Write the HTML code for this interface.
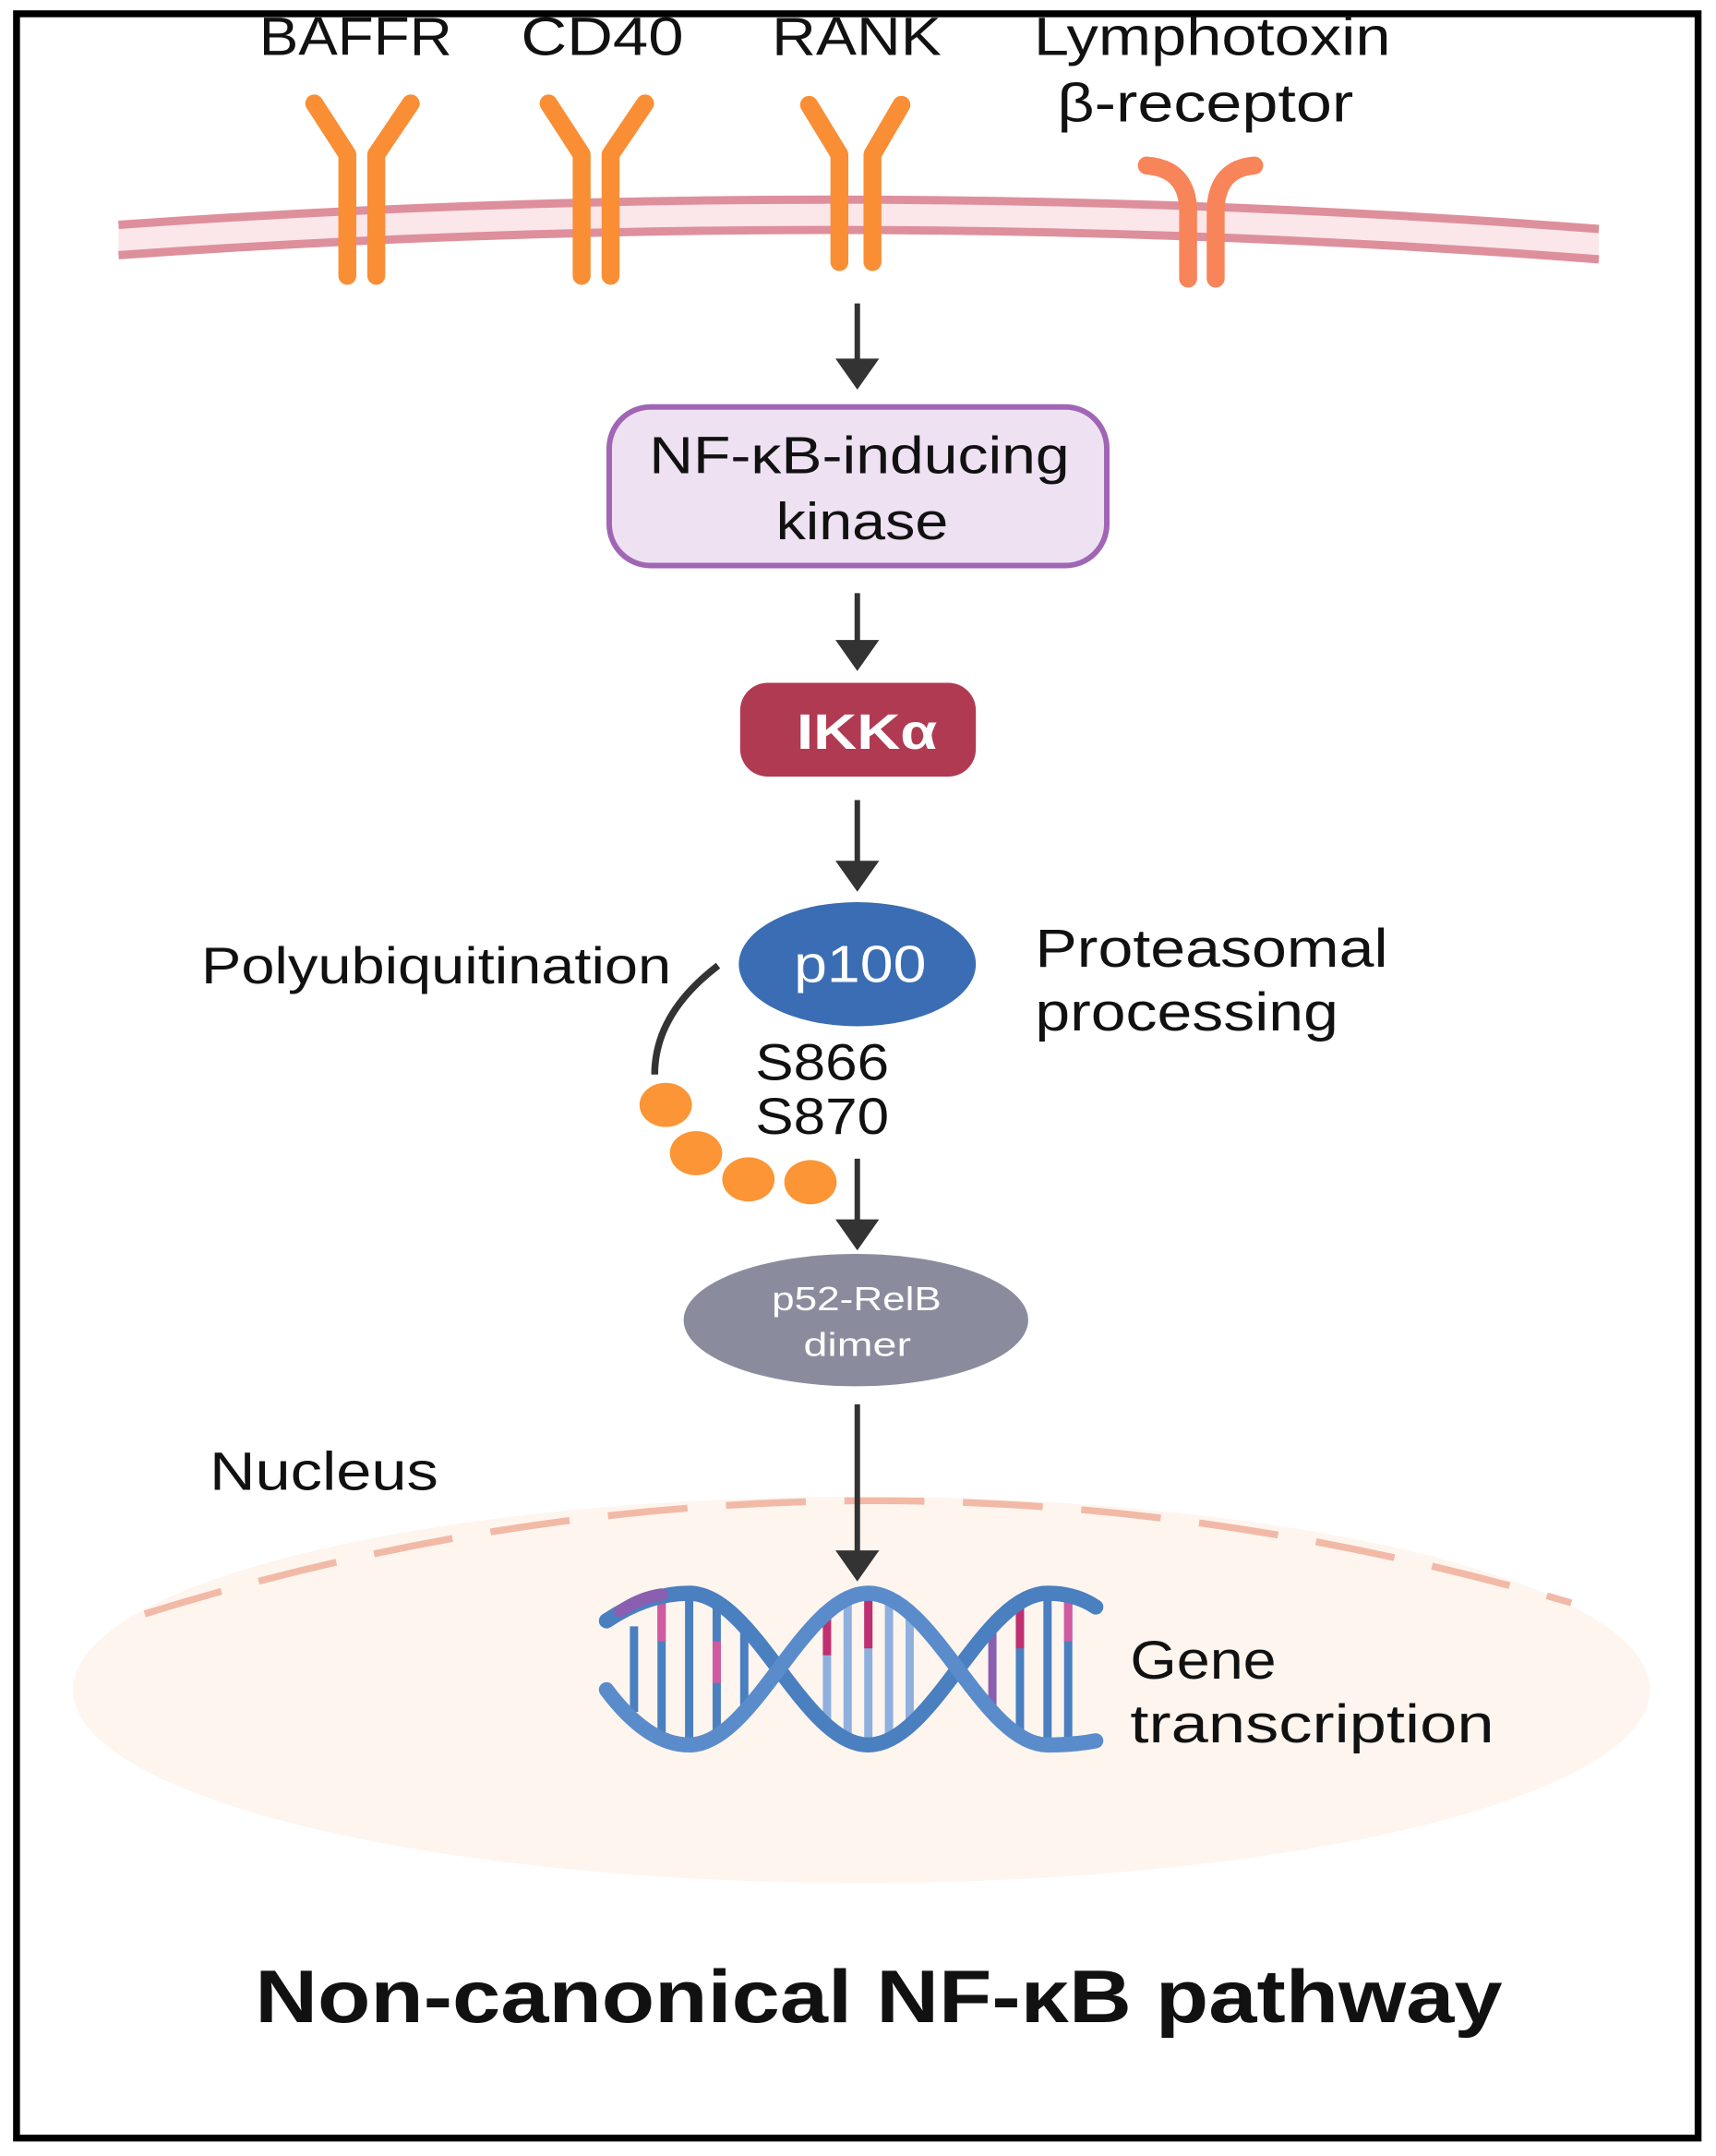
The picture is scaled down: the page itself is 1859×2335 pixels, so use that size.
<!DOCTYPE html>
<html><head><meta charset="utf-8"><style>
html,body{margin:0;padding:0;background:#fff;}
svg{display:block;}
text{font-family:"Liberation Sans","DejaVu Sans",sans-serif;}
</style></head><body>
<svg width="1859" height="2335" viewBox="0 0 1245 1563" preserveAspectRatio="none" xmlns="http://www.w3.org/2000/svg">
<rect x="12" y="10" width="1220" height="1540" fill="#fff" stroke="#000" stroke-width="5"/>
<!-- nucleus -->
<ellipse cx="625" cy="1225" rx="572" ry="140" fill="#fdf5ee"/>
<path d="M105,1170 Q620,1010 1140,1162" fill="none" stroke="#f2b9a7" stroke-width="5" stroke-dasharray="58,28"/>
<!-- labels top -->
<g font-size="39" fill="#111" lengthAdjust="spacingAndGlyphs">
<text x="188" y="40" textLength="140" lengthAdjust="spacingAndGlyphs">BAFFR</text>
<text x="378" y="40" textLength="118" lengthAdjust="spacingAndGlyphs">CD40</text>
<text x="560" y="40" textLength="123" lengthAdjust="spacingAndGlyphs">RANK</text>
<text x="750" y="40" textLength="259" lengthAdjust="spacingAndGlyphs">Lymphotoxin</text>
<text x="767" y="88" textLength="215" lengthAdjust="spacingAndGlyphs">β-receptor</text>
</g>
<!-- membrane -->
<path d="M86,163 Q622,125 1160,166 L1160,188 Q622,147 86,185 Z" fill="#fbe6ea"/>
<path d="M86,163 Q622,125 1160,166" fill="none" stroke="#de8f9c" stroke-width="6"/>
<path d="M86,185 Q622,147 1160,188" fill="none" stroke="#de8f9c" stroke-width="6"/>
<!-- receptors -->
<g fill="none" stroke="#f98e35" stroke-width="13" stroke-linecap="round" stroke-linejoin="round">
<path d="M228,75 L252,112 L252,200"/><path d="M298,75 L273,112 L273,200"/>
<path d="M398,75 L422,112 L422,200"/><path d="M468,75 L443,112 L443,200"/>
<path d="M587,76 L609,112 L609,190"/><path d="M654,76 L633,112 L633,190"/>
</g>
<g fill="none" stroke="#f8845a" stroke-width="13" stroke-linecap="round" stroke-linejoin="round">
<path d="M832,120 Q860,122 862,150 L862,202"/><path d="M910,120 Q884,122 882,150 L882,202"/>
</g>
<!-- arrows -->
<g stroke="#333" stroke-width="4" fill="#333">
<line x1="622" y1="220" x2="622" y2="268"/><path d="M610,262 L634,262 L622,279 Z"/>
<line x1="622" y1="430" x2="622" y2="472"/><path d="M610,466 L634,466 L622,483 Z"/>
<line x1="622" y1="580" x2="622" y2="632"/><path d="M610,626 L634,626 L622,643 Z"/>
<line x1="622" y1="840" x2="622" y2="892"/><path d="M610,886 L634,886 L622,903 Z"/>
<line x1="622" y1="1018" x2="622" y2="1132"/><path d="M610,1126 L634,1126 L622,1143 Z"/>
</g>
<!-- NIK -->
<rect x="442" y="295" width="361" height="115" rx="30" fill="#eee1f2" stroke="#a066b5" stroke-width="4"/>
<text x="471" y="343" font-size="38" textLength="305" lengthAdjust="spacingAndGlyphs" fill="#111">NF-κB-inducing</text>
<text x="563" y="391" font-size="38" textLength="125" lengthAdjust="spacingAndGlyphs" fill="#111">kinase</text>
<!-- IKK -->
<rect x="537" y="495" width="171" height="68" rx="20" fill="#b03a52"/>
<text x="578" y="543" font-size="36" font-weight="bold" textLength="102" lengthAdjust="spacingAndGlyphs" fill="#fff">IKKα</text>
<!-- p100 -->
<ellipse cx="622" cy="699" rx="86" ry="45" fill="#3a6db3"/>
<text x="576" y="712" font-size="38" textLength="96" lengthAdjust="spacingAndGlyphs" fill="#fff">p100</text>
<text x="146" y="713" font-size="37" textLength="341" lengthAdjust="spacingAndGlyphs" fill="#111">Polyubiquitination</text>
<path d="M521,700 Q475,735 475,779" fill="none" stroke="#333" stroke-width="5"/>
<g fill="#fb9535">
<ellipse cx="483" cy="801" rx="19" ry="16"/>
<ellipse cx="505" cy="836" rx="19" ry="16"/>
<ellipse cx="543" cy="855" rx="19" ry="16"/>
<ellipse cx="588" cy="857" rx="19" ry="16"/>
</g>
<text x="548" y="783" font-size="37" textLength="97" lengthAdjust="spacingAndGlyphs" fill="#111">S866</text>
<text x="548" y="822" font-size="37" textLength="97" lengthAdjust="spacingAndGlyphs" fill="#111">S870</text>
<text x="751" y="701" font-size="39" textLength="256" lengthAdjust="spacingAndGlyphs" fill="#111">Proteasomal</text>
<text x="751" y="747" font-size="39" textLength="220" lengthAdjust="spacingAndGlyphs" fill="#111">processing</text>
<!-- p52 -->
<ellipse cx="621" cy="957" rx="125" ry="48" fill="#8a8c9e"/>
<text x="560" y="950" font-size="24" textLength="123" lengthAdjust="spacingAndGlyphs" fill="#fff">p52-RelB</text>
<text x="583" y="983" font-size="24" textLength="78" lengthAdjust="spacingAndGlyphs" fill="#fff">dimer</text>
<text x="152" y="1080" font-size="39" textLength="166" lengthAdjust="spacingAndGlyphs" fill="#111">Nucleus</text>
<!-- DNA -->
<g stroke-width="6">
<line x1="460" y1="1179" x2="460" y2="1241" stroke="#4a7fc0"/>
<line x1="480" y1="1162" x2="480" y2="1258" stroke="#4a7fc0"/>
<line x1="480" y1="1162" x2="480" y2="1190" stroke="#d05aa0"/>
<line x1="500" y1="1155" x2="500" y2="1265" stroke="#4a7fc0"/>
<line x1="520" y1="1162" x2="520" y2="1258" stroke="#4a7fc0"/>
<line x1="520" y1="1190" x2="520" y2="1220" stroke="#d05aa0"/>
<line x1="540" y1="1179" x2="540" y2="1241" stroke="#4a7fc0"/>
<line x1="600" y1="1169" x2="600" y2="1251" stroke="#8fb0de"/>
<line x1="600" y1="1169" x2="600" y2="1200" stroke="#c03070"/>
<line x1="615" y1="1158" x2="615" y2="1262" stroke="#8fb0de"/>
<line x1="630" y1="1155" x2="630" y2="1265" stroke="#8fb0de"/>
<line x1="630" y1="1155" x2="630" y2="1195" stroke="#c03070"/>
<line x1="645" y1="1158" x2="645" y2="1262" stroke="#8fb0de"/>
<line x1="660" y1="1169" x2="660" y2="1251" stroke="#8fb0de"/>
<line x1="720" y1="1179" x2="720" y2="1241" stroke="#8a5fb0"/>
<line x1="740" y1="1161" x2="740" y2="1259" stroke="#4a7fc0"/>
<line x1="740" y1="1161" x2="740" y2="1195" stroke="#c03070"/>
<line x1="760" y1="1155" x2="760" y2="1265" stroke="#4a7fc0"/>
<line x1="775" y1="1159" x2="775" y2="1261" stroke="#4a7fc0"/>
<line x1="775" y1="1159" x2="775" y2="1190" stroke="#d05aa0"/>
</g>
<path d="M440,1175 Q470,1155 500,1155 C547,1155 583,1265 630,1265 C677,1265 713,1155 760,1155 Q780,1155 795,1165" fill="none" stroke="#4a7fc0" stroke-width="11" stroke-linecap="round"/>
<path d="M440,1225 Q470,1265 500,1265 C547,1265 583,1155 630,1155 C677,1155 713,1265 760,1265 Q780,1265 795,1262" fill="none" stroke="#5a8ccb" stroke-width="11" stroke-linecap="round"/>
<path d="M450,1168 Q465,1158 480,1156" fill="none" stroke="#8a5fb0" stroke-width="9" stroke-linecap="round"/>
<text x="820" y="1217" font-size="39" textLength="106" lengthAdjust="spacingAndGlyphs" fill="#111">Gene</text>
<text x="820" y="1263" font-size="39" textLength="264" lengthAdjust="spacingAndGlyphs" fill="#111">transcription</text>
<text x="185" y="1466" font-size="54" font-weight="bold" textLength="905" lengthAdjust="spacingAndGlyphs" fill="#111">Non-canonical NF-κB pathway</text>
</svg>
</body></html>
